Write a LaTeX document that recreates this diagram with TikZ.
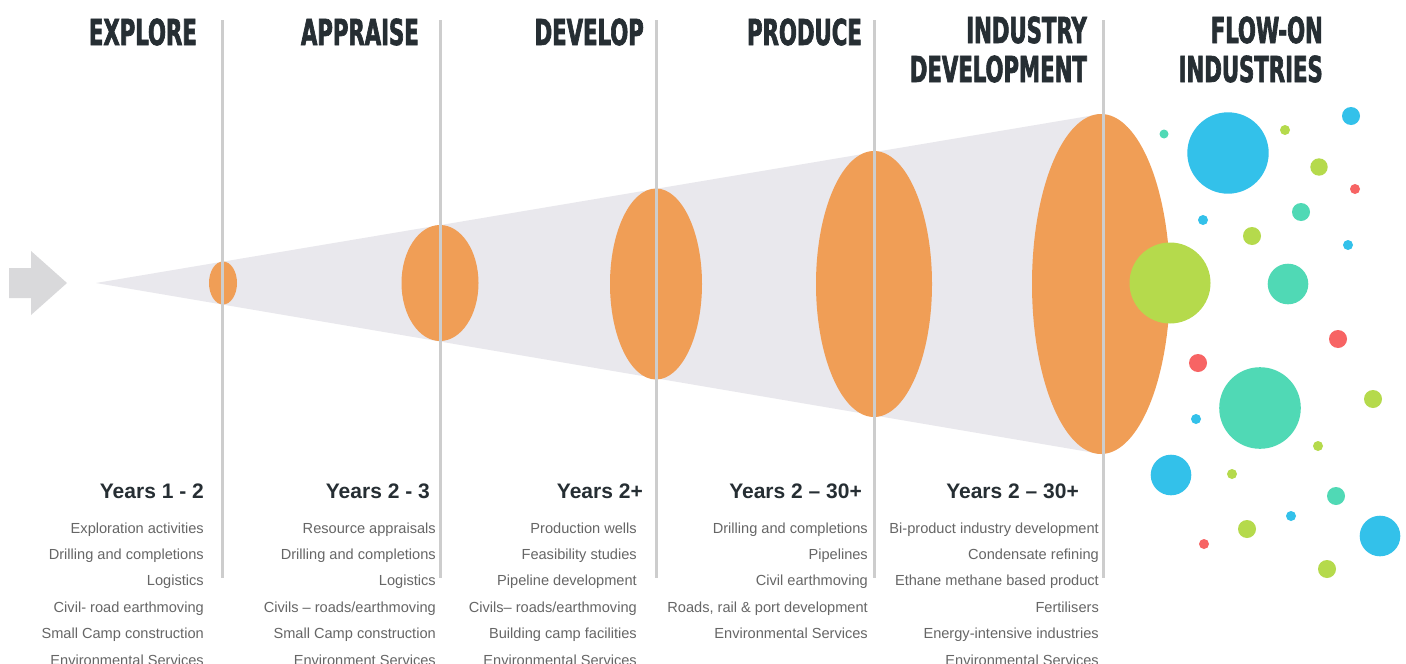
\documentclass[tikz,border=0pt]{standalone}
\usepackage{fontspec}
\setmainfont{Liberation Sans}
\newfontfamily\headfont[FakeStretch=0.66,FakeBold=1.8]{DejaVu Sans Condensed Bold}
\usetikzlibrary{shapes.geometric}

\definecolor{stageorange}{HTML}{F09E56}
\definecolor{conegrey}{HTML}{E9E8ED}
\definecolor{dividergrey}{HTML}{CDCDCD}
\definecolor{arrowgrey}{HTML}{D9D9DB}
\definecolor{headdark}{HTML}{262E33}
\definecolor{itemgrey}{HTML}{666666}
\definecolor{bblue}{HTML}{33C1EA}
\definecolor{bgreen}{HTML}{B5DA4C}
\definecolor{bteal}{HTML}{50D9B5}
\definecolor{bred}{HTML}{F76464}

\tikzset{
  stage/.style={shape=ellipse, fill=stageorange, inner sep=0pt},
  bubble/.style={shape=circle, inner sep=0pt},
  divider/.style={draw=dividergrey, line width=3pt},
  phase/.style={font=\headfont\fontsize{35.7}{39}\selectfont, text=headdark, inner sep=0pt, align=right, anchor=base east},
  years/.style={font=\bfseries\fontsize{21}{25}\selectfont, text=headdark, inner sep=0pt, anchor=base east},
  items/.style={font=\fontsize{14.6}{26.4}\selectfont, text=itemgrey, inner sep=0pt, align=right, anchor=base east},
}

\begin{document}
\begin{tikzpicture}[x=1pt,y=-1pt]
\useasboundingbox (0,0) rectangle (1406,664);
\fill[white] (0,0) rectangle (1406,664);

% cone and start arrow
\fill[conegrey] (96,283) -- (1101,114) -- (1101,454) -- cycle;
\fill[arrowgrey] (9,268) -- (31,268) -- (31,251) -- (67,283) -- (31,315) -- (31,298) -- (9,298) -- cycle;

\path (223,283) node (s1) [stage, minimum width=28, minimum height=43] {};
\path (440,283) node (s2) [stage, minimum width=77, minimum height=116] {};
\path (656,284) node (s3) [stage, minimum width=92, minimum height=191] {};
\path (874,284) node (s4) [stage, minimum width=116, minimum height=266] {};
\path (1101,284) node (s5) [stage, minimum width=138, minimum height=340] {};

% dividers
\coordinate (t1) at (222,20); \coordinate (b1) at (222,578);
\coordinate (t2) at (440,20); \coordinate (b2) at (440,578);
\coordinate (t3) at (656,20); \coordinate (b3) at (656,578);
\coordinate (t4) at (874,20); \coordinate (b4) at (874,578);
\coordinate (t5) at (1103,20); \coordinate (b5) at (1103,578);
\draw [divider] (t1) -- (b1);
\draw [divider] (t2) -- (b2);
\draw [divider] (t3) -- (b3);
\draw [divider] (t4) -- (b4);
\draw [divider] (t5) -- (b5);

% flow-on bubbles
\path (1228,153) node (c1) [bubble, fill=bblue, minimum size=81.4] {};
\path (1351,116) node (c2) [bubble, fill=bblue, minimum size=18] {};
\path (1203,220) node (c3) [bubble, fill=bblue, minimum size=10] {};
\path (1348,245) node (c4) [bubble, fill=bblue, minimum size=10] {};
\path (1196,419) node (c5) [bubble, fill=bblue, minimum size=10] {};
\path (1171,475) node (c6) [bubble, fill=bblue, minimum size=40.6] {};
\path (1291,516) node (c7) [bubble, fill=bblue, minimum size=10] {};
\path (1380,536) node (c8) [bubble, fill=bblue, minimum size=40.6] {};
\path (1285,130) node (c9) [bubble, fill=bgreen, minimum size=10] {};
\path (1319,167) node (c10) [bubble, fill=bgreen, minimum size=17.4] {};
\path (1252,236) node (c11) [bubble, fill=bgreen, minimum size=18] {};
\path (1170,283) node (c12) [bubble, fill=bgreen, minimum size=81] {};
\path (1373,399) node (c13) [bubble, fill=bgreen, minimum size=18] {};
\path (1318,446) node (c14) [bubble, fill=bgreen, minimum size=10] {};
\path (1232,474) node (c15) [bubble, fill=bgreen, minimum size=10] {};
\path (1247,529) node (c16) [bubble, fill=bgreen, minimum size=18] {};
\path (1327,569) node (c17) [bubble, fill=bgreen, minimum size=18] {};
\path (1164,134) node (c18) [bubble, fill=bteal, minimum size=9] {};
\path (1301,212) node (c19) [bubble, fill=bteal, minimum size=18] {};
\path (1288,284) node (c20) [bubble, fill=bteal, minimum size=40.6] {};
\path (1260,408) node (c21) [bubble, fill=bteal, minimum size=81.6] {};
\path (1336,496) node (c22) [bubble, fill=bteal, minimum size=18] {};
\path (1355,189) node (c23) [bubble, fill=bred, minimum size=10] {};
\path (1338,339) node (c24) [bubble, fill=bred, minimum size=18] {};
\path (1198,363) node (c25) [bubble, fill=bred, minimum size=18] {};
\path (1204,544) node (c26) [bubble, fill=bred, minimum size=10] {};

% phase titles
\path (197,45) node (p1) [phase] {EXPLORE};
\path (419,45) node (p2) [phase] {APPRAISE};
\path (644,45) node (p3) [phase] {DEVELOP};
\path (862,45) node (p4) [phase] {PRODUCE};
\path (1087,82) node (p5) [phase] {INDUSTRY\\DEVELOPMENT};
\path (1323,82) node (p6) [phase] {FLOW-ON\\INDUSTRIES};

% years
\path (204,498) node (y1) [years] {Years 1 - 2};
\path (430,498) node (y2) [years] {Years 2 - 3};
\path (643,498) node (y3) [years] {Years 2+};
\path (862,498) node (y4) [years] {Years 2 -- 30+};
\path (1079,498) node (y5) [years] {Years 2 -- 30+};

% activities
\path (204,665) node (a1) [items] {Exploration activities\\Drilling and completions\\Logistics\\Civil- road earthmoving\\Small Camp construction\\Environmental Services};
\path (436,665) node (a2) [items] {Resource appraisals\\Drilling and completions\\Logistics\\Civils -- roads/earthmoving\\Small Camp construction\\Environment Services};
\path (637,665) node (a3) [items] {Production wells\\Feasibility studies\\Pipeline development\\Civils-- roads/earthmoving\\Building camp facilities\\Environmental Services};
\path (868,638.6) node (a4) [items] {Drilling and completions\\Pipelines\\Civil earthmoving\\Roads, rail \& port development\\Environmental Services};
\path (1099,665) node (a5) [items] {Bi-product industry development\\Condensate refining\\Ethane methane based product\\Fertilisers\\Energy-intensive industries\\Environmental Services};

\end{tikzpicture}
\end{document}
